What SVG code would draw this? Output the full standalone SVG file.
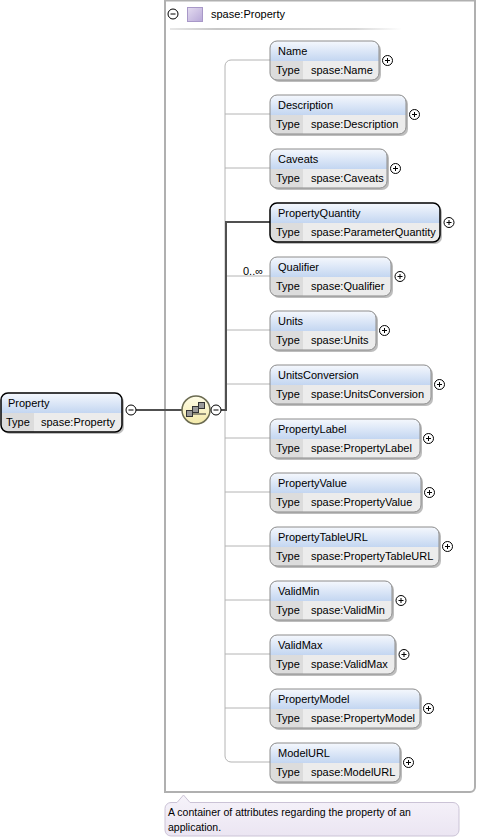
<svg xmlns="http://www.w3.org/2000/svg" width="478" height="840" viewBox="0 0 478 840">
<defs>
<linearGradient id="hdr" x1="0" y1="0" x2="0" y2="1"><stop offset="0" stop-color="#f5f8fd"/><stop offset="1" stop-color="#c3d6f1"/></linearGradient>
<linearGradient id="seq" x1="0" y1="0" x2="0" y2="1"><stop offset="0" stop-color="#fffde8"/><stop offset="1" stop-color="#f3e9a8"/></linearGradient>
<linearGradient id="hline" x1="0" y1="0" x2="1" y2="0"><stop offset="0" stop-color="#e8e8e8"/><stop offset="0.2" stop-color="#c8c8c8"/><stop offset="0.8" stop-color="#d8d8d8"/><stop offset="1" stop-color="#ffffff"/></linearGradient>
<linearGradient id="sq" x1="0" y1="0" x2="1" y2="1"><stop offset="0" stop-color="#e4dcf0"/><stop offset="1" stop-color="#b8a8d8"/></linearGradient>
<linearGradient id="ann" x1="0" y1="0" x2="0" y2="1"><stop offset="0" stop-color="#f6f3fa"/><stop offset="1" stop-color="#ebe5f2"/></linearGradient>
</defs>
<style>
text{font-family:"Liberation Sans",Arial,sans-serif;font-size:11px;fill:#000}
.ann{font-size:10.5px}
.sh{fill:#bdbdbd}
.base{fill:#dcdcdc}
.val{fill:#ececec}
.hd{fill:url(#hdr)}
.bd{fill:none;stroke:#8c8c8c;stroke-width:1}
.bdk{fill:none;stroke:#000;stroke-width:1.5}
.dv{stroke:#fff;stroke-width:1}
.pc{fill:#fff;stroke:#000;stroke-width:1}
.pl{stroke:#000;stroke-width:1;fill:none}
.con{fill:none;stroke:#b4b4b4;stroke-width:1}
.cond{fill:none;stroke:#505050;stroke-width:2}
</style>
<rect width="478" height="840" fill="#fff"/>
<g id="container">
<path d="M165,0.5 H475 V787 a5,5 0 0 1 -5,5 H165 Z" fill="#fff" stroke="#b0b0b0" stroke-width="2"/>
<circle class="pc" cx="173" cy="14" r="5"/><path class="pl" d="M170.5,14 H175.5"/>
<rect x="187.5" y="7.5" width="15" height="14" fill="url(#sq)" stroke="#a898c8"/>
<text x="211" y="18">spase:Property</text>
<rect x="170" y="28" width="232" height="2" fill="url(#hline)"/>
</g>
<g id="connectors">
<path class="con" d="M270,60 H231 a6,6 0 0 0 -6,6 V756 a6,6 0 0 0 6,6 H270"/>
<path class="con" d="M225,114 H270 M225,168 H270 M225,276 H270 M225,330 H270 M225,384 H270 M225,438 H270 M225,492 H270 M225,546 H270 M225,600 H270 M225,654 H270 M225,708 H270"/>
<path class="cond" d="M136,410 H182"/>
<path class="cond" d="M221,410 H226 V222 H270"/>
<text x="243" y="275" font-size="10.5">0..∞</text>
</g>
<g id="n-Property" transform="translate(1,393)">
<rect class="sh" x="2" y="2" width="121" height="39" rx="7"/>
<rect class="base" width="121" height="39" rx="7"/>
<path class="val" d="M33,20 H121 V32 a7,7 0 0 1 -7,7 H33 Z"/>
<path class="hd" d="M0,7 a7,7 0 0 1 7,-7 H114 a7,7 0 0 1 7,7 V20 H0 Z"/>
<rect class="bdk" width="121" height="39" rx="7"/>
<text x="7" y="14">Property</text><text x="5" y="33">Type</text><text x="40" y="33">spase:Property</text>
<circle class="pc" cx="130" cy="17" r="5"/><path class="pl" d="M127.5,17 H132.5"/>
</g>
<g id="sequence">
<circle cx="196" cy="410" r="14" fill="url(#seq)" stroke="#6a6a50" stroke-width="1.5"/>
<path d="M186,414 H206" stroke="#333" stroke-width="1"/>
<rect x="186.5" y="410.5" width="6" height="6" fill="#999" stroke="#333"/>
<rect x="192.5" y="406.5" width="6" height="6" fill="#999" stroke="#333"/>
<rect x="198.5" y="402.5" width="6" height="6" fill="#999" stroke="#333"/>
<circle class="pc" cx="216" cy="410" r="5"/><path class="pl" d="M213.5,410 H218.5"/>
</g>
<g id="n-Name" transform="translate(270,41)">
<rect class="sh" x="2" y="2" width="109" height="39" rx="7"/><rect class="base" width="109" height="39" rx="7"/>
<path class="val" d="M33,20 H109 V32 a7,7 0 0 1 -7,7 H33 Z"/><path class="hd" d="M0,7 a7,7 0 0 1 7,-7 H102 a7,7 0 0 1 7,7 V20 H0 Z"/>
<rect class="bd" width="109" height="39" rx="7"/>
<text x="8" y="14">Name</text><text x="6" y="33">Type</text><text x="41" y="33">spase:Name</text>
<circle class="pc" cx="117.5" cy="19.5" r="5"/><path class="pl" d="M115,19.5 H120 M117.5,17 V22"/>
</g>
<g id="n-Description" transform="translate(270,95)">
<rect class="sh" x="2" y="2" width="136" height="39" rx="7"/><rect class="base" width="136" height="39" rx="7"/>
<path class="val" d="M33,20 H136 V32 a7,7 0 0 1 -7,7 H33 Z"/><path class="hd" d="M0,7 a7,7 0 0 1 7,-7 H129 a7,7 0 0 1 7,7 V20 H0 Z"/>
<rect class="bd" width="136" height="39" rx="7"/>
<text x="8" y="14">Description</text><text x="6" y="33">Type</text><text x="41" y="33">spase:Description</text>
<circle class="pc" cx="144.5" cy="19.5" r="5"/><path class="pl" d="M142,19.5 H147 M144.5,17 V22"/>
</g>
<g id="n-Caveats" transform="translate(270,149)">
<rect class="sh" x="2" y="2" width="117" height="39" rx="7"/><rect class="base" width="117" height="39" rx="7"/>
<path class="val" d="M33,20 H117 V32 a7,7 0 0 1 -7,7 H33 Z"/><path class="hd" d="M0,7 a7,7 0 0 1 7,-7 H110 a7,7 0 0 1 7,7 V20 H0 Z"/>
<rect class="bd" width="117" height="39" rx="7"/>
<text x="8" y="14">Caveats</text><text x="6" y="33">Type</text><text x="41" y="33">spase:Caveats</text>
<circle class="pc" cx="125.5" cy="19.5" r="5"/><path class="pl" d="M123,19.5 H128 M125.5,17 V22"/>
</g>
<g id="n-PropertyQuantity" transform="translate(270,203)">
<rect class="sh" x="2" y="2" width="170" height="39" rx="7"/><rect class="base" width="170" height="39" rx="7"/>
<path class="val" d="M33,20 H170 V32 a7,7 0 0 1 -7,7 H33 Z"/><path class="hd" d="M0,7 a7,7 0 0 1 7,-7 H163 a7,7 0 0 1 7,7 V20 H0 Z"/>
<rect class="bdk" width="170" height="39" rx="7"/>
<text x="8" y="14">PropertyQuantity</text><text x="6" y="33">Type</text><text x="41" y="33">spase:ParameterQuantity</text>
<circle class="pc" cx="179" cy="19.5" r="5"/><path class="pl" d="M176.5,19.5 H181.5 M179,17 V22"/>
</g>
<g id="n-Qualifier" transform="translate(270,257)">
<rect class="sh" x="2" y="2" width="121" height="39" rx="7"/><rect class="base" width="121" height="39" rx="7"/>
<path class="val" d="M33,20 H121 V32 a7,7 0 0 1 -7,7 H33 Z"/><path class="hd" d="M0,7 a7,7 0 0 1 7,-7 H114 a7,7 0 0 1 7,7 V20 H0 Z"/>
<rect class="bd" width="121" height="39" rx="7"/>
<text x="8" y="14">Qualifier</text><text x="6" y="33">Type</text><text x="41" y="33">spase:Qualifier</text>
<circle class="pc" cx="130" cy="19.5" r="5"/><path class="pl" d="M127.5,19.5 H132.5 M130,17 V22"/>
</g>
<g id="n-Units" transform="translate(270,311)">
<rect class="sh" x="2" y="2" width="106" height="39" rx="7"/><rect class="base" width="106" height="39" rx="7"/>
<path class="val" d="M33,20 H106 V32 a7,7 0 0 1 -7,7 H33 Z"/><path class="hd" d="M0,7 a7,7 0 0 1 7,-7 H99 a7,7 0 0 1 7,7 V20 H0 Z"/>
<rect class="bd" width="106" height="39" rx="7"/>
<text x="8" y="14">Units</text><text x="6" y="33">Type</text><text x="41" y="33">spase:Units</text>
<circle class="pc" cx="114.5" cy="19.5" r="5"/><path class="pl" d="M112,19.5 H117 M114.5,17 V22"/>
</g>
<g id="n-UnitsConversion" transform="translate(270,365)">
<rect class="sh" x="2" y="2" width="161" height="39" rx="7"/><rect class="base" width="161" height="39" rx="7"/>
<path class="val" d="M33,20 H161 V32 a7,7 0 0 1 -7,7 H33 Z"/><path class="hd" d="M0,7 a7,7 0 0 1 7,-7 H154 a7,7 0 0 1 7,7 V20 H0 Z"/>
<rect class="bd" width="161" height="39" rx="7"/>
<text x="8" y="14">UnitsConversion</text><text x="6" y="33">Type</text><text x="41" y="33">spase:UnitsConversion</text>
<circle class="pc" cx="169.5" cy="19.5" r="5"/><path class="pl" d="M167,19.5 H172 M169.5,17 V22"/>
</g>
<g id="n-PropertyLabel" transform="translate(270,419)">
<rect class="sh" x="2" y="2" width="150" height="39" rx="7"/><rect class="base" width="150" height="39" rx="7"/>
<path class="val" d="M33,20 H150 V32 a7,7 0 0 1 -7,7 H33 Z"/><path class="hd" d="M0,7 a7,7 0 0 1 7,-7 H143 a7,7 0 0 1 7,7 V20 H0 Z"/>
<rect class="bd" width="150" height="39" rx="7"/>
<text x="8" y="14">PropertyLabel</text><text x="6" y="33">Type</text><text x="41" y="33">spase:PropertyLabel</text>
<circle class="pc" cx="158.5" cy="19.5" r="5"/><path class="pl" d="M156,19.5 H161 M158.5,17 V22"/>
</g>
<g id="n-PropertyValue" transform="translate(270,473)">
<rect class="sh" x="2" y="2" width="151" height="39" rx="7"/><rect class="base" width="151" height="39" rx="7"/>
<path class="val" d="M33,20 H151 V32 a7,7 0 0 1 -7,7 H33 Z"/><path class="hd" d="M0,7 a7,7 0 0 1 7,-7 H144 a7,7 0 0 1 7,7 V20 H0 Z"/>
<rect class="bd" width="151" height="39" rx="7"/>
<text x="8" y="14">PropertyValue</text><text x="6" y="33">Type</text><text x="41" y="33">spase:PropertyValue</text>
<circle class="pc" cx="159.5" cy="19.5" r="5"/><path class="pl" d="M157,19.5 H162 M159.5,17 V22"/>
</g>
<g id="n-PropertyTableURL" transform="translate(270,527)">
<rect class="sh" x="2" y="2" width="169" height="39" rx="7"/><rect class="base" width="169" height="39" rx="7"/>
<path class="val" d="M33,20 H169 V32 a7,7 0 0 1 -7,7 H33 Z"/><path class="hd" d="M0,7 a7,7 0 0 1 7,-7 H162 a7,7 0 0 1 7,7 V20 H0 Z"/>
<rect class="bd" width="169" height="39" rx="7"/>
<text x="8" y="14">PropertyTableURL</text><text x="6" y="33">Type</text><text x="41" y="33">spase:PropertyTableURL</text>
<circle class="pc" cx="177.5" cy="19.5" r="5"/><path class="pl" d="M175,19.5 H180 M177.5,17 V22"/>
</g>
<g id="n-ValidMin" transform="translate(270,581)">
<rect class="sh" x="2" y="2" width="122" height="39" rx="7"/><rect class="base" width="122" height="39" rx="7"/>
<path class="val" d="M33,20 H122 V32 a7,7 0 0 1 -7,7 H33 Z"/><path class="hd" d="M0,7 a7,7 0 0 1 7,-7 H115 a7,7 0 0 1 7,7 V20 H0 Z"/>
<rect class="bd" width="122" height="39" rx="7"/>
<text x="8" y="14">ValidMin</text><text x="6" y="33">Type</text><text x="41" y="33">spase:ValidMin</text>
<circle class="pc" cx="131" cy="19.5" r="5"/><path class="pl" d="M128.5,19.5 H133.5 M131,17 V22"/>
</g>
<g id="n-ValidMax" transform="translate(270,635)">
<rect class="sh" x="2" y="2" width="125" height="39" rx="7"/><rect class="base" width="125" height="39" rx="7"/>
<path class="val" d="M33,20 H125 V32 a7,7 0 0 1 -7,7 H33 Z"/><path class="hd" d="M0,7 a7,7 0 0 1 7,-7 H118 a7,7 0 0 1 7,7 V20 H0 Z"/>
<rect class="bd" width="125" height="39" rx="7"/>
<text x="8" y="14">ValidMax</text><text x="6" y="33">Type</text><text x="41" y="33">spase:ValidMax</text>
<circle class="pc" cx="134" cy="19.5" r="5"/><path class="pl" d="M131.5,19.5 H136.5 M134,17 V22"/>
</g>
<g id="n-PropertyModel" transform="translate(270,689)">
<rect class="sh" x="2" y="2" width="150" height="39" rx="7"/><rect class="base" width="150" height="39" rx="7"/>
<path class="val" d="M33,20 H150 V32 a7,7 0 0 1 -7,7 H33 Z"/><path class="hd" d="M0,7 a7,7 0 0 1 7,-7 H143 a7,7 0 0 1 7,7 V20 H0 Z"/>
<rect class="bd" width="150" height="39" rx="7"/>
<text x="8" y="14">PropertyModel</text><text x="6" y="33">Type</text><text x="41" y="33">spase:PropertyModel</text>
<circle class="pc" cx="158.5" cy="19.5" r="5"/><path class="pl" d="M156,19.5 H161 M158.5,17 V22"/>
</g>
<g id="n-ModelURL" transform="translate(270,743)">
<rect class="sh" x="2" y="2" width="130" height="39" rx="7"/><rect class="base" width="130" height="39" rx="7"/>
<path class="val" d="M33,20 H130 V32 a7,7 0 0 1 -7,7 H33 Z"/><path class="hd" d="M0,7 a7,7 0 0 1 7,-7 H123 a7,7 0 0 1 7,7 V20 H0 Z"/>
<rect class="bd" width="130" height="39" rx="7"/>
<text x="8" y="14">ModelURL</text><text x="6" y="33">Type</text><text x="41" y="33">spase:ModelURL</text>
<circle class="pc" cx="138.5" cy="19.5" r="5"/><path class="pl" d="M136,19.5 H141 M138.5,17 V22"/>
</g>
<g id="annotation">
<path d="M171,802.5 H177 L183.5,795 L190,802.5 H453 a6,6 0 0 1 6,6 V830 a6,6 0 0 1 -6,6 H171 a6,6 0 0 1 -6,-6 V808.5 a6,6 0 0 1 6,-6 Z" fill="url(#ann)" stroke="#cbc3d6"/>
<text class="ann" x="168" y="816">A container of attributes regarding the property of an</text>
<text class="ann" x="168" y="831">application.</text>
</g>
</svg>
